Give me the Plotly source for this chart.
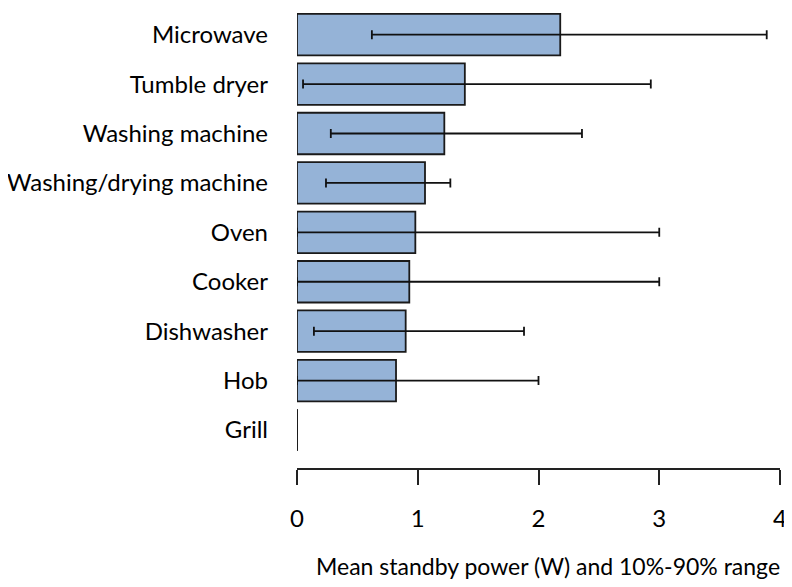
import plotly.graph_objects as go

appliances = ["Microwave", "Tumble dryer", "Washing machine", "Washing/drying machine",
              "Oven", "Cooker", "Dishwasher", "Hob", "Grill"]
mean_power = [2.18, 1.39, 1.22, 1.06, 0.98, 0.93, 0.90, 0.82, 0.0]
p10 = [0.62, 0.05, 0.28, 0.24, 0.0, 0.0, 0.14, 0.0, 0.0]
p90 = [3.89, 2.93, 2.36, 1.27, 3.0, 3.0, 1.88, 2.0, 0.0]
x_ticks = [0, 1, 2, 3, 4]

font = "Lato"
bar_width = 0.84

fig = go.Figure()
fig.add_trace(go.Bar(
    y=appliances, x=mean_power, orientation="h",
    width=bar_width,
    marker=dict(color="#95b3d7", line=dict(color="#1a1a1a", width=1.8)),
    error_x=dict(
        type="data", symmetric=False,
        array=[hi - m for hi, m in zip(p90, mean_power)],
        arrayminus=[m - lo for m, lo in zip(mean_power, p10)],
        color="#111111", thickness=1.8, width=4.5,
    ),
    hoverinfo="skip",
))

# zero-valued bars are not drawn by plotly, so draw their outline as a line
for i, (name, v) in enumerate(zip(appliances, mean_power)):
    if v == 0:
        fig.add_shape(type="line", xref="x", yref="y",
                      x0=v, x1=v, y0=i - bar_width / 2, y1=i + bar_width / 2,
                      line=dict(color="#1a1a1a", width=1.8))

# the page body adds an 8px margin, so the figure is 8px smaller than the window
fig.update_layout(
    width=784, height=579,
    margin=dict(l=289, r=12, t=2, b=119),
    plot_bgcolor="white", paper_bgcolor="white",
    font=dict(family=font, size=24, color="#000000"),
    showlegend=False,
    xaxis=dict(
        range=[0, 4], tickvals=x_ticks, showgrid=False, zeroline=False,
        showline=True, linecolor="#222222", linewidth=1.8,
        ticks="outside", ticklen=15, tickwidth=1.8, tickcolor="#222222",
        ticklabelstandoff=13, automargin=False,
    ),
    yaxis=dict(
        categoryorder="array", categoryarray=appliances,
        range=[8.77, -0.5], showgrid=False, zeroline=False, showline=False,
        ticks="", ticklabelstandoff=28, automargin=False,
    ),
)

fig.add_annotation(
    text="Mean standby power (W) and 10%-90% range",
    xref="paper", yref="paper", x=0.52, y=-0.214,
    xanchor="center", yanchor="middle", showarrow=False,
    font=dict(family=font, size=23, color="#000000"),
)

fig.write_html("out.html")
